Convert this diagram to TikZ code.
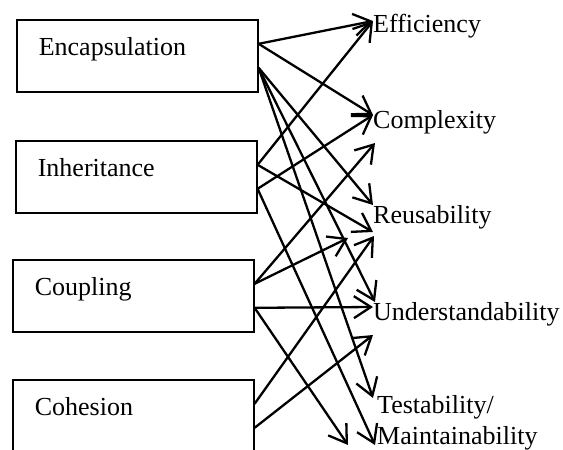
\documentclass[tikz,border=0pt]{standalone}
\usepackage{fontspec}
\setmainfont{Liberation Serif}
\usetikzlibrary{arrows.meta}

\tikzset{
  factor/.style={draw, line width=1.6pt, anchor=north west, text width=197pt, align=left,
    inner xsep=22pt, inner ysep=0pt, text height=36pt, text depth=36pt},
  attr/.style={anchor=base west, inner sep=0pt, align=left},
  link/.style={line width=2.3pt, -{Straight Barb[length=17pt,width=22pt]}}
}

\begin{document}
\begin{tikzpicture}[x=1pt,y=-1pt,font=\fontsize{26}{31}\selectfont]
    \useasboundingbox (0,0) rectangle (563,450);
    % factors
    \node[factor] (enc) at (16,19) {Encapsulation};
    \node[factor] (inh) at (15,140) {Inheritance};
    \node[factor] (cou) at (12,259) {Coupling};
    \node[factor] (coh) at (12,379) {Cohesion};
    % attributes
    \node[attr] (eff) at (373,32) {Efficiency};
    \node[attr] (cpx) at (373,128) {Complexity};
    \node[attr] (reu) at (373,223) {Reusability};
    \node[attr] (und) at (373,320) {Understandability};
    \node[attr] (tes) at (377,444) {Testability/\\Maintainability};
    % encapsulation
    \draw[link] ([yshift=12pt]enc.east) -- ([shift={(0,-11)}]eff.base west);
    \draw[link] ([yshift=12pt]enc.east) -- ([shift={(0,-13)}]cpx.base west);
    \draw[link] ([yshift=-12pt]enc.east) -- ([shift={(0,-18)}]reu.base west);
    \draw[link] ([yshift=-12pt]enc.east) -- ([shift={(2,-18)}]und.base west);
    \draw[link] ([yshift=-12pt]enc.east) -- ([shift={(-4,-46)}]tes.base west);
    % inheritance
    \draw[link] ([yshift=12pt]inh.east) -- ([shift={(0,-11)}]eff.base west);
    \draw[link] ([yshift=12pt]inh.east) -- ([shift={(0,9)}]reu.base west);
    \draw[link] ([yshift=-12pt]inh.east) -- ([shift={(0,-13)}]cpx.base west);
    \draw[link] ([yshift=-12pt]inh.east) -- ([shift={(-2,1)}]tes.base west);
    % coupling
    \draw[link] ([yshift=12pt]cou.east) -- ([shift={(2,15)}]cpx.base west);
    \draw[link] ([yshift=12pt]cou.east) -- ([shift={(-25,15)}]reu.base west);
    \draw[link] ([yshift=-12pt]cou.east) -- ([shift={(0,-13)}]und.base west);
    \draw[link] ([yshift=-12pt]cou.east) -- ([shift={(-29,1)}]tes.base west);
    % cohesion
    \draw[link] ([yshift=12pt]coh.east) -- ([shift={(1,13)}]reu.base west);
    \draw[link] ([yshift=-12pt]coh.east) -- ([shift={(0,15)}]und.base west);
\end{tikzpicture}
\end{document}
